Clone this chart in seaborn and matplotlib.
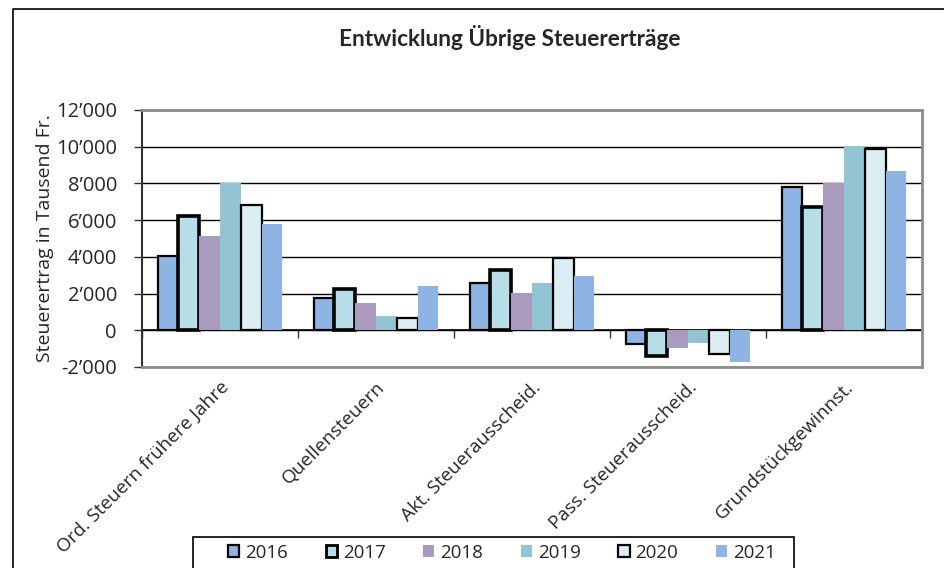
import matplotlib
matplotlib.use("Agg")
import matplotlib.pyplot as plt
import seaborn as sns
import pandas as pd
from matplotlib.patches import Patch, Rectangle
from matplotlib.lines import Line2D
from matplotlib.ticker import FuncFormatter

categories = ["Ord. Steuern frühere Jahre", "Quellensteuern", "Akt. Steuerausscheid.",
              "Pass. Steuerausscheid.", "Grundstückgewinnst."]
years = ["2016", "2017", "2018", "2019", "2020", "2021"]
v2016 = [4050, 1780, 2580, -730, 7800]
v2017 = [6250, 2270, 3270, -1400, 6730]
v2018 = [5150, 1490, 2050, -960, 8000]
v2019 = [8050, 760, 2580, -670, 10050]
v2020 = [6850, 690, 3960, -1270, 9870]
v2021 = [5800, 2400, 2950, -1730, 8690]
yticks = [-2000, 0, 2000, 4000, 6000, 8000, 10000, 12000]

title = "Entwicklung Übrige Steuererträge"
ylabel = "Steuerertrag in Tausend Fr."

colors = ["#8EB4E3", "#B7DEE8", "#A99BBD", "#93C4D4", "#DBEEF3", "#8EB4E3"]
edge_w = [1.6, 2.6, 0, 0, 1.6, 0]

series = [v2016, v2017, v2018, v2019, v2020, v2021]
rows = []
for y, vals in zip(years, series):
    for c, v in zip(categories, vals):
        rows.append({"Kategorie": c, "Jahr": y, "Wert": v})
df = pd.DataFrame(rows)

sns.set_style("white")
plt.rcParams["font.family"] = ["Open Sans", "DejaVu Sans"]

W, H = 944, 568
fig = plt.figure(figsize=(W / 100, H / 100), dpi=100)
ax = fig.add_axes([142 / W, 1 - 367 / H, 780 / W, 257 / H])

sns.barplot(data=df, x="Kategorie", y="Wert", hue="Jahr", order=categories,
            hue_order=years, palette=colors, width=0.8, ax=ax, legend=False,
            saturation=1, errorbar=None)

for cont, ew in zip(ax.containers, edge_w):
    for bar in cont:
        if ew > 0:
            bar.set_edgecolor("black")
            bar.set_linewidth(ew)
        else:
            bar.set_edgecolor("none")
            bar.set_linewidth(0)

ax.set_xlim(-0.5, len(categories) - 0.5)
ax.set_ylim(yticks[0], yticks[-1])
ax.set_yticks(yticks)
ax.yaxis.set_major_formatter(FuncFormatter(lambda v, p: f"{int(v):,}".replace(",", "\u2019")))
ax.yaxis.grid(True, color="black", linewidth=1.0)
ax.set_axisbelow(True)
ax.tick_params(axis="y", direction="out", length=6, width=1, color="#333333",
               labelsize=14.5, pad=12, left=True)
ax.set_xticks(range(len(categories)))
ax.set_xticklabels(categories, rotation=45, ha="right", rotation_mode="anchor", fontsize=13.6)
ax.tick_params(axis="x", length=0, pad=8)
ax.set_xlabel("")
ax.set_ylabel("")

for s in ["top", "right", "bottom"]:
    ax.spines[s].set_color("#8c8c8c")
    ax.spines[s].set_linewidth(2)
ax.spines["left"].set_color("#333333")
ax.spines["left"].set_linewidth(1.5)

# category separators on the zero line
zero_frac = (0 - yticks[0]) / (yticks[-1] - yticks[0])
sec = ax.secondary_xaxis(zero_frac)
sec.set_xticks([i - 0.5 for i in range(len(categories) + 1)])
sec.set_xticklabels([])
sec.tick_params(direction="out", length=6, width=1, color="#333333")
sec.spines["bottom"].set_color("black")
sec.spines["bottom"].set_linewidth(1.2)

fig.text(510 / W, 1 - 46 / H, title, ha="center", va="baseline",
         fontsize=16.3, fontweight="bold", family=["Lato", "DejaVu Sans"])
fig.text(45 / W, 1 - 238 / H, ylabel, ha="center", va="center",
         rotation=90, fontsize=14)

# outer frame
fig.add_artist(Line2D([13 / W, 13 / W, 1], [0, 1 - 9 / H, 1 - 9 / H],
                      transform=fig.transFigure, color="black", linewidth=1.2))

# legend box (extends past the bottom edge)
fig.add_artist(Rectangle((193 / W, -0.05), (794 - 193) / W, 0.05 + (568 - 537) / H,
                         transform=fig.transFigure, fill=False, edgecolor="black",
                         linewidth=1.2))

handles = []
for c, ew in zip(colors, edge_w):
    if ew > 0:
        handles.append(Patch(facecolor=c, edgecolor="black", linewidth=min(ew, 2.0)))
    else:
        handles.append(Patch(facecolor=c, edgecolor="none"))
leg = fig.legend(handles, years, loc="center left",
                 bbox_to_anchor=(228 / W, 1 - 553 / H), ncol=6,
                 fontsize=13.5, frameon=False,
                 handlelength=0.6, handleheight=0.6, handletextpad=0.32,
                 columnspacing=2.0, borderpad=0, borderaxespad=0)

fig.savefig("out.png", dpi=100)
